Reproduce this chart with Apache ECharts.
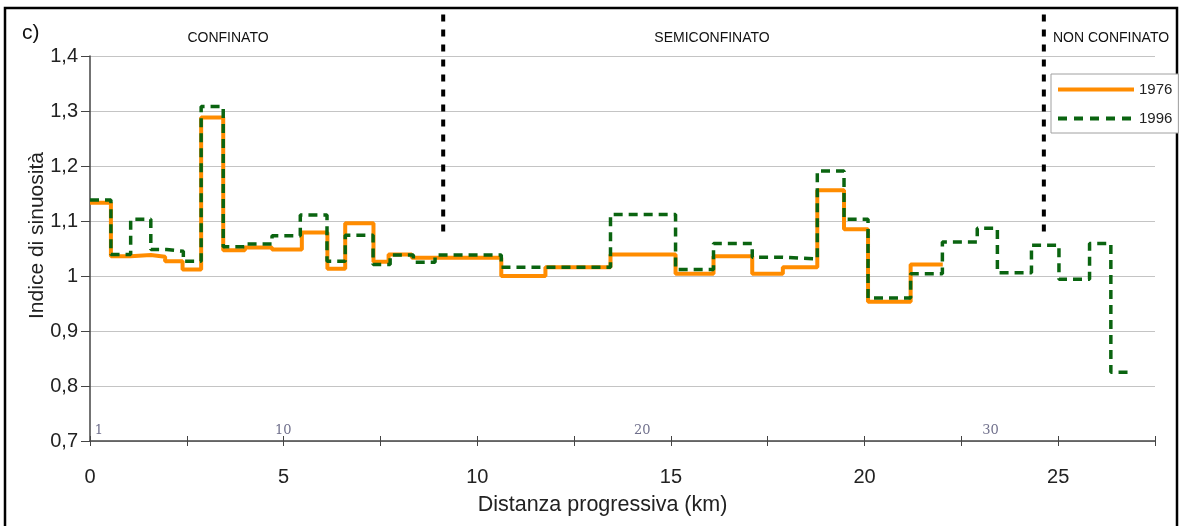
<!DOCTYPE html>
<html lang="it">
<head>
    <meta charset="UTF-8">
    <title>Indice di sinuosità</title>
    <script src="https://cdn.jsdelivr.net/npm/echarts@6/dist/echarts.min.js"></script>
    <style>
        body{ margin: 0; background: #fff; }
        #chart{ width: 1179px; height: 526px; }
    </style>
</head>
<body>
<div id="chart"></div>
<script>
    // step breaks (km) and index values
    var km1976 = [0, 0.54, 1.05, 1.57, 1.94, 2.39, 2.87, 3.44, 4.0, 4.70, 5.47, 6.13, 6.59, 7.32, 7.71, 8.31,
        10.62, 11.76, 13.44, 15.12, 16.1, 17.1, 17.89, 18.78, 19.47, 20.09, 21.19];
    var end1976 = 22.02;
    var val1976 = [1.133, 1.036, 1.038, 1.035, 1.027, 1.012, 1.288, 1.047, 1.052, 1.048, 1.079, 1.013, 1.096, 1.026, 1.039, 1.033,
        1.0, 1.016, 1.039, 1.004, 1.036, 1.004, 1.016, 1.156, 1.085, 0.953, 1.021];

    var km1996 = [0, 0.54, 1.05, 1.57, 1.98, 2.41, 2.87, 3.44, 4.0, 4.70, 5.43, 6.12, 6.59, 7.31, 7.75, 8.35, 8.91,
        10.62, 13.44, 15.12, 16.1, 17.1, 17.89, 18.78, 19.47, 20.09, 21.19, 22.01, 22.91, 23.43, 24.31, 25.02, 25.81, 26.36];
    var end1996 = 26.81;
    var val1996 = [1.138, 1.039, 1.103, 1.048, 1.045, 1.027, 1.308, 1.053, 1.058, 1.073, 1.111, 1.027, 1.074, 1.021, 1.038, 1.025, 1.038,
        1.016, 1.112, 1.012, 1.059, 1.034, 1.031, 1.191, 1.103, 0.960, 1.004, 1.062, 1.087, 1.006, 1.056, 0.994, 1.059, 0.825];

    // limits between reaches
    var dividerKm = [9.12, 24.63];
    var dividerY = [1.081, 1.48];

    // reach numbers shown along the axis
    var reachNum = ['1', '10', '20', '30'];
    var reachKm = [0.23, 4.99, 14.26, 23.25];
    var reachY = 0.718;

    var xTicks = [0, 5, 10, 15, 20, 25];

    function steps(xs, vs, end){
        var d = [];
        for (var i = 0; i < xs.length; i++) d.push([xs[i], vs[i]]);
        d.push([end, vs[vs.length - 1]]);
        return d;
    }

    var series = [
        {
            name: '1976', type: 'line', step: 'end', symbol: 'none',
            data: steps(km1976, val1976, end1976),
            lineStyle: { color: '#ff8c00', width: 4 },
            itemStyle: { color: '#ff8c00' },
            z: 3
        },
        {
            name: '1996', type: 'line', step: 'end', symbol: 'none',
            data: steps(km1996, val1996, end1996),
            lineStyle: { color: '#0a6410', width: 3.5, type: [9, 6] },
            itemStyle: { color: '#0a6410' },
            z: 4
        },
        {
            type: 'scatter', symbolSize: 0, silent: true,
            data: reachKm.map(function(k, i){ return { value: [k, reachY], name: reachNum[i] }; }),
            label: {
                show: true, position: 'inside', formatter: '{b}',
                fontFamily: 'DejaVu Serif', fontSize: 13, color: '#4b4b6e'
            }
        }
    ];
    dividerKm.forEach(function(k){
        series.push({
            type: 'line', symbol: 'none', clip: false, silent: true,
            data: [[k, dividerY[0]], [k, dividerY[1]]],
            lineStyle: { color: '#000', width: 4, type: [7, 8] },
            z: 5
        });
    });

    var chart = echarts.init(document.getElementById('chart'));
    chart.setOption({
        animation: false,
        textStyle: { fontFamily: 'Liberation Sans' },
        grid: { left: 90, right: 24, top: 56, bottom: 85 },
        legend: {
            data: [
                { name: '1976', lineStyle: { width: 4 } },
                { name: '1996', lineStyle: { width: 4, type: [9, 7] } }
            ],
            orient: 'vertical', left: 1051, top: 74,
            itemWidth: 76, itemHeight: 14, itemGap: 14,
            padding: [8, 6, 7, 5],
            itemStyle: { opacity: 0 },
            borderColor: '#a0a0a0', borderWidth: 1, backgroundColor: '#fff',
            textStyle: { fontSize: 15, color: '#222' }
        },
        xAxis: [
            {
                type: 'value', min: 0, max: 27.5, interval: 2.5,
                name: 'Distanza progressiva (km)', nameLocation: 'middle', nameGap: 53,
                nameTextStyle: { fontSize: 21.5, color: '#222', padding: [0, 40, 0, 0] },
                axisLine: { lineStyle: { color: '#444', width: 1.5 } },
                axisTick: { length: 5, lineStyle: { color: '#444' } },
                axisLabel: {
                    fontSize: 20, color: '#222', margin: 26,
                    formatter: function(v){ return xTicks.indexOf(v) >= 0 ? String(v) : ''; }
                },
                splitLine: { show: false }
            },
            {
                type: 'value', min: 0, max: 27.5, interval: 2.5, position: 'bottom',
                axisLine: { show: false },
                axisTick: { inside: true, length: 5, lineStyle: { color: '#444' } },
                axisLabel: { show: false },
                splitLine: { show: false }
            }
        ],
        yAxis: {
            type: 'value', min: 0.7, max: 1.4, interval: 0.1,
            name: 'Indice di sinuosità', nameLocation: 'middle', nameGap: 42, nameMoveOverlap: false,
            nameTextStyle: { fontSize: 21, color: '#222', padding: [0, 0, 0, 26] },
            axisLine: { show: true, lineStyle: { color: '#444', width: 1.5 } },
            axisTick: { show: true, length: 9, lineStyle: { color: '#444' } },
            axisLabel: {
                fontSize: 20, color: '#222', margin: 12,
                formatter: function(v){ return String(+v.toFixed(1)).replace('.', ','); }
            },
            splitLine: { lineStyle: { color: '#c4c4c4', width: 1.2 } }
        },
        graphic: [
            { type: 'rect', shape: { x: 5, y: 8, width: 1172, height: 540 },
              style: { fill: 'none', stroke: '#000', lineWidth: 2.5 }, silent: true },
            { type: 'text', left: 22, top: 23, style: { text: 'c)', fontSize: 21, fill: '#111', fontFamily: 'Liberation Sans' } },
            { type: 'text', x: 228, y: 38, style: { text: 'CONFINATO', fontSize: 14, fill: '#111', align: 'center', verticalAlign: 'middle', fontFamily: 'Liberation Sans' } },
            { type: 'text', x: 712, y: 38, style: { text: 'SEMICONFINATO', fontSize: 14, fill: '#111', align: 'center', verticalAlign: 'middle', fontFamily: 'Liberation Sans' } },
            { type: 'text', x: 1111, y: 38, style: { text: 'NON CONFINATO', fontSize: 14, fill: '#111', align: 'center', verticalAlign: 'middle', fontFamily: 'Liberation Sans' } }
        ],
        series: series
    });
</script>
</body>
</html>
